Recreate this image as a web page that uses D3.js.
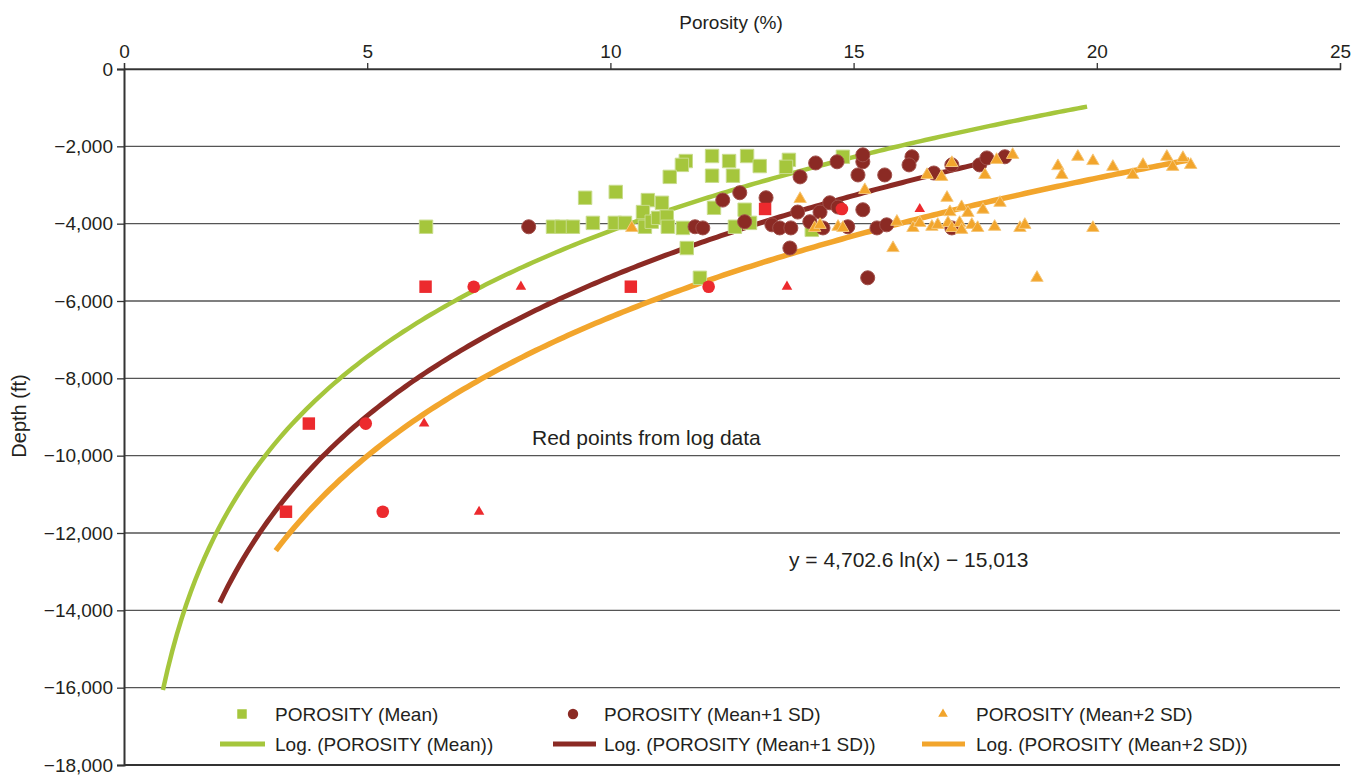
<!DOCTYPE html>
<html>
<head>
<meta charset="utf-8">
<script src="https://cdn.jsdelivr.net/npm/d3@7"></script>
<style>
  body { margin: 0; background: #fff; }
  text { font-family: "Liberation Sans", Arial, Helvetica, sans-serif; fill: #231f20; }
</style>
</head>
<body>
<svg id="svg" width="1359" height="775"></svg>
<script>
// porosity (%) vs depth (ft)
const meanPoints = [
  [11.55, -2380], [11.47, -2480], [11.22, -2790], [12.09, -2250], [12.44, -2380],
  [12.81, -2250], [13.07, -2510], [12.09, -2760], [12.52, -2760], [13.67, -2350],
  [13.61, -2530], [14.78, -2270], [9.48, -3330], [10.11, -3180], [10.77, -3390],
  [11.06, -3460], [12.13, -3590], [12.76, -3640], [8.82, -4080], [9.0, -4080],
  [9.23, -4080], [9.64, -3980], [10.09, -3980], [10.3, -3980], [10.67, -3700],
  [10.71, -4080], [10.85, -3950], [10.98, -3850], [11.16, -3820], [11.18, -4080],
  [11.49, -4110], [11.57, -4630], [11.84, -5400], [6.21, -4080], [12.56, -4080],
  [12.87, -3980], [14.14, -4160]
];
const sd1Points = [
  [8.32, -4080], [11.74, -4080], [11.9, -4110], [12.31, -3390], [12.66, -3200],
  [13.2, -3330], [12.76, -3950], [13.32, -4030], [13.48, -4110], [13.71, -4110],
  [13.85, -3700], [13.69, -4630], [13.9, -2790], [14.22, -2430], [14.1, -3950],
  [14.31, -3700], [14.37, -4110], [14.51, -3460], [14.66, -2400], [14.68, -3570],
  [14.88, -4080], [15.09, -2740], [15.19, -3640], [15.19, -2400], [15.19, -2220],
  [15.29, -5400], [15.48, -4110], [15.68, -4030], [16.2, -2270], [16.14, -2480],
  [15.64, -2740], [16.65, -2690], [17.02, -2480], [17.59, -2480], [17.74, -2300],
  [18.11, -2270], [17.02, -4110]
];
const sd2Points = [
  [10.44, -4110], [13.9, -3360], [15.23, -3130], [14.2, -4110], [14.31, -4030],
  [14.68, -4080], [14.78, -4110], [15.81, -4630], [15.89, -3950], [16.22, -4110],
  [16.36, -3980], [16.51, -2740], [16.81, -2790], [16.92, -3330], [17.02, -2430],
  [16.61, -4080], [16.73, -4030], [16.94, -3980], [17.02, -4110], [17.18, -3980],
  [17.22, -4160], [16.98, -3700], [17.22, -3570], [17.35, -3720], [17.43, -4030],
  [17.55, -4110], [17.66, -3640], [17.9, -4080], [18.01, -3460], [18.42, -4110],
  [18.52, -4030], [17.7, -2740], [17.94, -2350], [18.27, -2220], [18.77, -5400],
  [19.2, -2510], [19.28, -2740], [19.61, -2270], [19.92, -2380], [20.33, -2530],
  [20.74, -2740], [20.95, -2480], [21.44, -2270], [21.56, -2530], [21.77, -2300],
  [21.93, -2480], [19.92, -4110]
];
// red points from log data: [porosity, depth, shape]
const logPoints = [
  [6.2, -5630, "square"], [10.42, -5630, "square"], [13.18, -3620, "square"],
  [3.8, -9170, "square"], [3.33, -11450, "square"],
  [7.19, -5630, "circle"], [12.02, -5630, "circle"], [4.97, -9170, "circle"],
  [5.32, -11450, "circle"], [14.76, -3620, "circle"],
  [8.16, -5630, "triangle"], [13.63, -5630, "triangle"], [6.17, -9170, "triangle"],
  [7.3, -11450, "triangle"], [16.36, -3620, "triangle"]
];
// logarithmic trendlines: [a, b, xStart, xEnd] for y = a ln(x) + b
const trendMean = [4702.6, -15013, 0.8, 19.8];
const trendSd1 = [5186, -17316, 1.97, 18.2];
const trendSd2 = [5185, -18355, 3.12, 21.9];

const xTicks = [0, 5, 10, 15, 20, 25];
const yTicks = [0, -2000, -4000, -6000, -8000, -10000, -12000, -14000, -16000, -18000];

const green = "#a5c63c", maroon = "#8b2a24", orange = "#f2a52c", red = "#ec2a2e";

const svg = d3.select("#svg");
const x = d3.scaleLinear().domain([0, 25]).range([124, 1340]);
const y = d3.scaleLinear().domain([0, -18000]).range([69, 765]);

// gridlines
svg.append("g")
  .selectAll("line")
  .data(yTicks)
  .join("line")
  .attr("x1", x(0))
  .attr("x2", x(25))
  .attr("y1", d => y(d))
  .attr("y2", d => y(d))
  .attr("stroke", d => (d === -18000 ? "#333" : "#555"))
  .attr("stroke-width", d => (d === -18000 ? 2 : 1.3));

// top axis
const xAxis = svg.append("g")
  .attr("transform", `translate(0, ${y(0)})`)
  .call(d3.axisTop(x).tickValues(xTicks).tickSize(6).tickPadding(5));
xAxis.select(".domain").attr("stroke", "#333").attr("stroke-width", 1.3);
xAxis.selectAll(".tick line").attr("stroke", "#333").attr("stroke-width", 1.3);
xAxis.selectAll(".tick text").style("font-size", "19px").style("font-family", "Liberation Sans, Arial, sans-serif").attr("fill", "#231f20");

// left axis
const yAxis = svg.append("g")
  .attr("transform", `translate(${x(0)}, 0)`)
  .call(d3.axisLeft(y).tickValues(yTicks).tickFormat(d3.format(",")).tickSize(7).tickPadding(4));
yAxis.select(".domain").attr("stroke", "#333").attr("stroke-width", 2);
yAxis.selectAll(".tick line").attr("stroke", "#333").attr("stroke-width", 1.3);
yAxis.selectAll(".tick text").style("font-size", "19px").style("font-family", "Liberation Sans, Arial, sans-serif").attr("fill", "#231f20");

svg.append("text")
  .attr("x", 731)
  .attr("y", 29)
  .attr("text-anchor", "middle")
  .style("font-size", "19px")
  .text("Porosity (%)");

svg.append("text")
  .attr("transform", "translate(26, 416) rotate(-90)")
  .attr("text-anchor", "middle")
  .style("font-size", "20px")
  .text("Depth (ft)");

// trendlines
const line = d3.line().x(d => x(d[0])).y(d => y(d[1]));
const trendPath = ([a, b, x0, x1]) =>
  line(d3.range(0, 201).map(i => {
    const t = x0 + (x1 - x0) * (i / 200);
    return [t, a * Math.log(t) + b];
  }));

[[trendMean, green, 4.5], [trendSd1, maroon, 5], [trendSd2, orange, 5.5]].forEach(([tr, col, w]) => {
  svg.append("path")
    .attr("d", trendPath(tr))
    .attr("fill", "none")
    .attr("stroke", col)
    .attr("stroke-width", w);
});

// points
const sym = (type, size) => d3.symbol().type(type).size(size)();

const drawPoints = (data, type, size, fill, stroke) => {
  svg.append("g")
    .selectAll("path")
    .data(data)
    .join("path")
    .attr("transform", d => `translate(${x(d[0])}, ${y(d[1])})`)
    .attr("d", sym(type, size))
    .attr("fill", fill)
    .attr("stroke", stroke || "none")
    .attr("stroke-width", 1);
};

drawPoints(meanPoints, d3.symbolSquare, 180, green, "#c8dc8c");
drawPoints(sd1Points, d3.symbolCircle, 155, maroon, "#a0504a");
drawPoints(sd2Points, d3.symbolTriangle, 66, orange, "#f6c77a");

const shapes = { square: [d3.symbolSquare, 155], circle: [d3.symbolCircle, 125], triangle: [d3.symbolTriangle, 48] };
svg.append("g")
  .selectAll("path")
  .data(logPoints)
  .join("path")
  .attr("transform", d => `translate(${x(d[0])}, ${y(d[1])})`)
  .attr("d", d => sym(shapes[d[2]][0], shapes[d[2]][1]))
  .attr("fill", red);

// annotations
svg.append("text")
  .attr("x", 532)
  .attr("y", 445)
  .style("font-size", "21px")
  .text("Red points from log data");

svg.append("text")
  .attr("x", 789)
  .attr("y", 567)
  .style("font-size", "21px")
  .text("y = 4,702.6 ln(x) \u2212 15,013");

// legend
const legendItems = [
  { label: "POROSITY (Mean)", col: green, type: d3.symbolSquare, size: 90, mx: 242, row: 0 },
  { label: "POROSITY (Mean+1 SD)", col: maroon, type: d3.symbolCircle, size: 85, mx: 573, row: 0 },
  { label: "POROSITY (Mean+2 SD)", col: orange, type: d3.symbolTriangle, size: 40, mx: 943, row: 0 },
  { label: "Log. (POROSITY (Mean))", col: green, lx: [220, 265], row: 1 },
  { label: "Log. (POROSITY (Mean+1 SD))", col: maroon, lx: [553, 596], row: 1 },
  { label: "Log. (POROSITY (Mean+2 SD))", col: orange, lx: [922, 965], row: 1 }
];
const textX = [275, 604, 976];
const legend = svg.append("g");
legendItems.forEach((d, i) => {
  const cy = d.row === 0 ? 714 : 744;
  if (d.row === 0) {
    legend.append("path")
      .attr("transform", `translate(${d.mx}, ${cy})`)
      .attr("d", sym(d.type, d.size))
      .attr("fill", d.col);
  } else {
    legend.append("line")
      .attr("x1", d.lx[0])
      .attr("x2", d.lx[1])
      .attr("y1", cy)
      .attr("y2", cy)
      .attr("stroke", d.col)
      .attr("stroke-width", 5);
  }
  legend.append("text")
    .attr("x", textX[i % 3])
    .attr("y", cy + 7)
    .style("font-size", "19px")
    .text(d.label);
});
</script>
</body>
</html>
